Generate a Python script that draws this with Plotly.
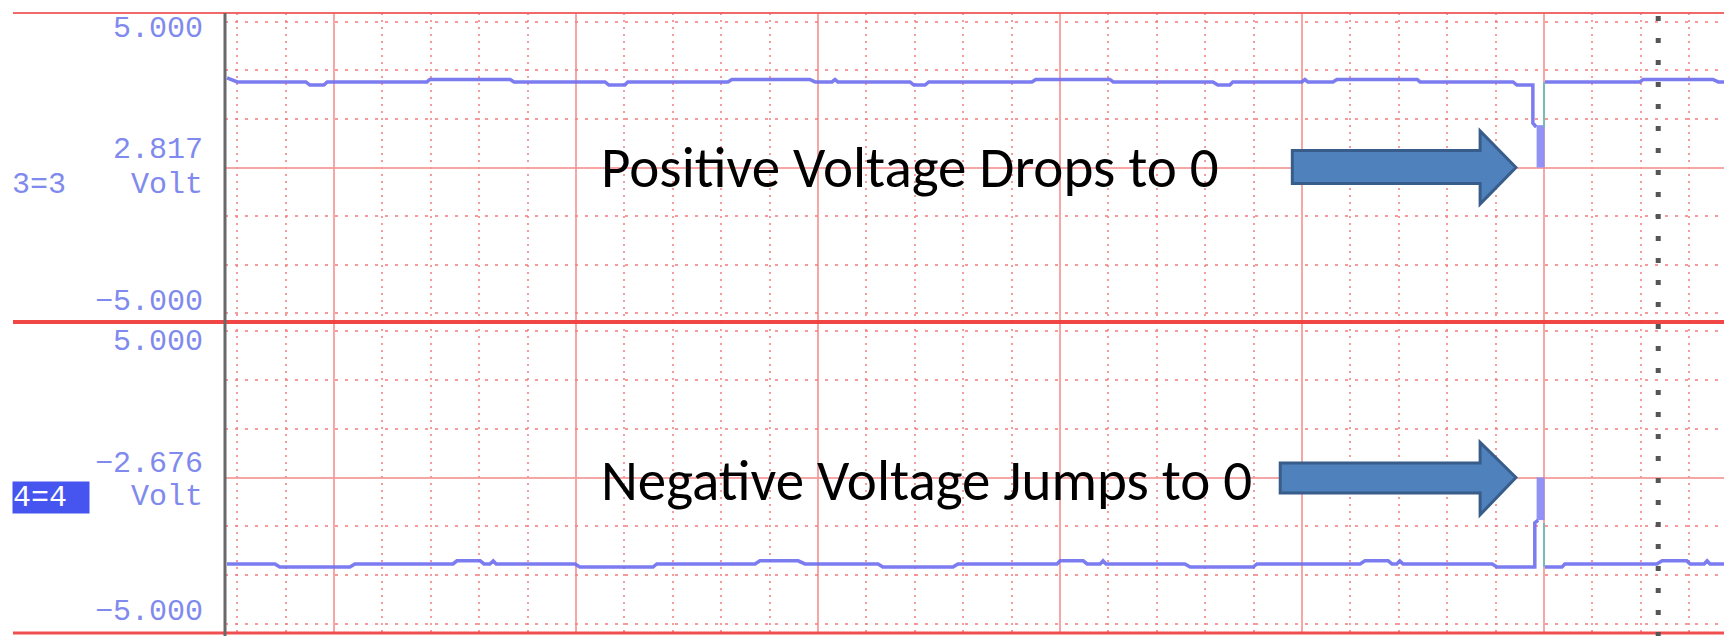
import plotly.graph_objects as go

W, H = 1724, 636

# ---- data (time in grid divisions, voltage in volts) ----
top_x = [-2.21, -2.00, -0.58, -0.50, -0.21, -0.14, 1.92, 1.98, 3.64, 3.72,
         5.60, 5.68, 6.01, 6.07, 8.14, 8.22, 9.83, 9.94, 10.29, 10.35, 10.41,
         11.90, 11.98, 12.21, 12.29, 14.42, 14.50, 16.03, 16.10, 18.16, 18.26,
         18.51, 18.57, 20.00, 20.06, 20.12, 20.64, 20.72, 22.38, 22.44, 24.36,
         24.44, 24.77, 24.77, 24.84, None,
         25.02, 26.98, 27.05, 28.49, 28.60, 28.72]
top_y = [2.90, 2.77, 2.77, 2.67, 2.67, 2.77, 2.77, 2.85, 2.85, 2.77,
         2.77, 2.67, 2.67, 2.77, 2.77, 2.85, 2.85, 2.77, 2.77, 2.85, 2.77,
         2.77, 2.67, 2.67, 2.77, 2.77, 2.85, 2.85, 2.77, 2.77, 2.67,
         2.67, 2.77, 2.77, 2.85, 2.77, 2.77, 2.85, 2.85, 2.77, 2.77,
         2.67, 2.67, 1.44, 1.31, None,
         2.77, 2.77, 2.85, 2.85, 2.77, 2.77]
top_burst_x = [24.93, 24.93]
top_burst_y = [1.37, 0.0]
top_return_x = [25.00, 25.00]
top_return_y = [1.31, 2.77]

bot_x = [-2.21, -1.22, -1.12, 0.33, 0.43, 2.46, 2.54, 3.02, 3.10, 3.22, 3.29, 3.35,
         4.98, 5.08, 6.59, 6.67, 8.70, 8.80, 9.59, 9.73, 11.24, 11.34, 12.79, 12.89,
         14.94, 15.00, 15.48, 15.56, 15.83, 15.89, 15.95, 17.58, 17.69, 18.99, 19.07,
         21.20, 21.30, 21.78, 21.86, 21.96, 22.02, 22.09, 23.93, 24.03, 24.81,
         24.81, 24.88, None,
         25.02, 25.37, 25.43, 27.33, 27.44, 27.95, 28.02, 28.31, 28.37, 28.43, 28.72]
bot_y = [-2.78, -2.78, -2.88, -2.88, -2.78, -2.78, -2.68, -2.68, -2.78, -2.78, -2.68, -2.78,
         -2.78, -2.88, -2.88, -2.78, -2.78, -2.68, -2.68, -2.78, -2.78, -2.88, -2.88, -2.78,
         -2.78, -2.68, -2.68, -2.78, -2.78, -2.68, -2.78, -2.78, -2.88, -2.88, -2.78,
         -2.78, -2.68, -2.68, -2.78, -2.78, -2.68, -2.78, -2.78, -2.88, -2.88,
         -1.46, -1.37, None,
         -2.88, -2.88, -2.78, -2.78, -2.68, -2.68, -2.78, -2.78, -2.68, -2.78, -2.78]
bot_burst_x = [24.93, 24.93]
bot_burst_y = [-1.37, 0.0]
bot_return_x = [25.00, 25.00]
bot_return_y = [-1.46, -2.88]

cursor_x = 27.36

ch_top_labels = ["5.000", "2.817", "Volt", "\u22125.000"]
ch_bot_labels = ["5.000", "\u22122.676", "Volt", "\u22125.000"]
ch_top_name = "3=3"
ch_bot_name = "4=4"
msg_top = "Positive Voltage Drops to 0"
msg_bot = "Negative Voltage Jumps to 0"

# ---- styling ----
TRACE = "rgba(110,110,240,0.9)"
BURST = "rgba(140,140,245,0.95)"
TEAL = "rgba(110,190,180,0.95)"
LABEL = "rgb(128,138,238)"
GRID_SOLID = "rgba(246,150,150,0.85)"
GRID_DOT = "rgba(242,130,130,0.8)"

def px(x):
    return x / W

def py(y):
    return 1 - y / H

fig = go.Figure()
line_w = 3.5
fig.add_trace(go.Scatter(x=top_x, y=top_y, mode="lines", line=dict(color=TRACE, width=line_w),
                         xaxis="x", yaxis="y", showlegend=False))
fig.add_trace(go.Scatter(x=top_burst_x, y=top_burst_y, mode="lines", line=dict(color=BURST, width=8),
                         xaxis="x", yaxis="y", showlegend=False))
fig.add_trace(go.Scatter(x=top_return_x, y=top_return_y, mode="lines", line=dict(color=TEAL, width=2),
                         xaxis="x", yaxis="y", showlegend=False))
fig.add_trace(go.Scatter(x=bot_x, y=bot_y, mode="lines", line=dict(color=TRACE, width=line_w),
                         xaxis="x2", yaxis="y2", showlegend=False))
fig.add_trace(go.Scatter(x=bot_burst_x, y=bot_burst_y, mode="lines", line=dict(color=BURST, width=8),
                         xaxis="x2", yaxis="y2", showlegend=False))
fig.add_trace(go.Scatter(x=bot_return_x, y=bot_return_y, mode="lines", line=dict(color=TEAL, width=2),
                         xaxis="x2", yaxis="y2", showlegend=False))

xr = [(225 - 334) / 48.4, (1724 - 334) / 48.4]
xaxis_common = dict(range=xr, domain=[px(225), 1.0], showticklabels=False, ticks="",
                    showgrid=True, tick0=0, dtick=5, gridcolor=GRID_SOLID, gridwidth=2,
                    zeroline=False, showline=False, fixedrange=True,
                    minor=dict(showgrid=True, tick0=0, dtick=1, gridcolor=GRID_DOT,
                               gridwidth=2, griddash="2px,5px", ticks=""))
yaxis_common = dict(range=[-5, 5], showticklabels=False, ticks="", showgrid=True,
                    tick0=0, dtick=1.57, gridcolor=GRID_DOT, gridwidth=2, griddash="3px,7px",
                    zeroline=True, zerolinecolor=GRID_SOLID, zerolinewidth=2,
                    showline=False, fixedrange=True)

fig.update_layout(
    width=W, height=H, margin=dict(l=0, r=0, t=0, b=0),
    paper_bgcolor="white", plot_bgcolor="white",
    xaxis=dict(**xaxis_common, anchor="y"),
    yaxis=dict(**yaxis_common, domain=[py(322), py(13)], anchor="x"),
    xaxis2=dict(**xaxis_common, anchor="y2"),
    yaxis2=dict(**yaxis_common, domain=[py(633), py(322)], anchor="x2"),
)

shapes = []
# borders
shapes.append(dict(type="line", xref="paper", yref="paper", x0=px(13), x1=1, y0=py(13), y1=py(13),
                   line=dict(color="rgba(240,90,90,0.9)", width=2), layer="above"))
shapes.append(dict(type="line", xref="paper", yref="paper", x0=px(13), x1=1, y0=py(322), y1=py(322),
                   line=dict(color="rgba(240,60,60,0.95)", width=4), layer="above"))
shapes.append(dict(type="line", xref="paper", yref="paper", x0=px(13), x1=1, y0=py(633), y1=py(633),
                   line=dict(color="rgba(240,70,70,0.95)", width=3), layer="above"))
shapes.append(dict(type="line", xref="paper", yref="paper", x0=px(225), x1=px(225), y0=py(13), y1=py(636),
                   line=dict(color="rgb(105,105,105)", width=3), layer="above"))
# cursor
shapes.append(dict(type="line", xref="x", yref="paper", x0=cursor_x, x1=cursor_x, y0=py(16), y1=py(636),
                   line=dict(color="rgb(85,85,85)", width=5, dash="5px,17px"), layer="above"))

# arrows (data coordinates)
def arrow_path(x0, xh, xt, bt, bb, ht, hb):
    return (f"M {x0},{bt} L {xh},{bt} L {xh},{ht} L {xt},0 L {xh},{hb} L {xh},{bb} L {x0},{bb} Z")

shapes.append(dict(type="path", xref="x", yref="y",
                   path=arrow_path(19.80, 23.68, 24.42, 0.55, -0.52, 1.18, -1.18),
                   fillcolor="rgb(79,129,189)", line=dict(color="rgb(56,93,138)", width=3), layer="above"))
shapes.append(dict(type="path", xref="x2", yref="y2",
                   path=arrow_path(19.55, 23.68, 24.42, 0.47, -0.50, 1.13, -1.20),
                   fillcolor="rgb(79,129,189)", line=dict(color="rgb(56,93,138)", width=3), layer="above"))
fig.update_layout(shapes=shapes)

ann = []
mono = "Courier New, Liberation Mono, monospace"
for txt, yy in zip(ch_top_labels, [29, 150, 185, 302]):
    ann.append(dict(text=txt, xref="paper", yref="paper", x=px(205), y=py(yy), xanchor="right",
                    yanchor="middle", showarrow=False, font=dict(family=mono, size=30, color=LABEL)))
for txt, yy in zip(ch_bot_labels, [342, 464, 497, 612]):
    ann.append(dict(text=txt, xref="paper", yref="paper", x=px(205), y=py(yy), xanchor="right",
                    yanchor="middle", showarrow=False, font=dict(family=mono, size=30, color=LABEL)))
ann.append(dict(text=ch_top_name, xref="paper", yref="paper", x=px(10), y=py(185), xanchor="left",
                yanchor="middle", showarrow=False, font=dict(family=mono, size=30, color=LABEL)))
ann.append(dict(text=ch_bot_name, xref="paper", yref="paper", x=px(12), y=py(497), xanchor="left",
                yanchor="middle", showarrow=False, bgcolor="rgb(70,85,240)", borderpad=0, width=76,
                height=31, align="left", font=dict(family=mono, size=30, color="white")))
sans = "Calibri, Carlito, Lato, sans-serif"
ann.append(dict(text=msg_top, xref="paper", yref="paper", x=px(599), y=py(168), xanchor="left",
                yanchor="middle", showarrow=False, font=dict(family=sans, size=57, color="black")))
ann.append(dict(text=msg_bot, xref="paper", yref="paper", x=px(599), y=py(480), xanchor="left",
                yanchor="middle", showarrow=False, font=dict(family=sans, size=57, color="black")))
fig.update_layout(annotations=ann)

fig.write_html("out.html", config={"displayModeBar": False},
               post_script="document.body.style.margin='0px';document.body.style.overflow='hidden';")
